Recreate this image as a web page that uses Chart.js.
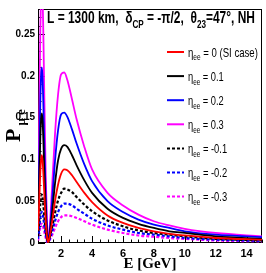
<!DOCTYPE html>
<html>
<head>
<meta charset="utf-8">
<script src="https://cdn.jsdelivr.net/npm/chart.js"></script>
<style>
  html, body { margin: 0; padding: 0; background: #fff; }
</style>
</head>
<body>
<canvas id="myChart" width="266" height="273"></canvas>
<script>
// Data: neutrino energy (GeV) and P(mu -> e) for each eta_ee
const energies = [0.5, 0.55, 0.6, 0.65, 0.7, 0.75, 0.8, 0.85, 0.9, 1.0, 1.1, 1.15, 1.2,
                  1.3, 1.45, 1.6, 1.8, 2.0, 2.2, 2.4, 2.7, 3.0, 3.5, 4.0,
                  5.0, 6.0, 7.0, 8.0, 9.0, 10, 12, 15];

const pSI   = [0.015, 0.035, 0.06, 0.085, 0.10, 0.105, 0.098, 0.082, 0.062, 0.027, 0.005, 0.001, 0.003,
               0.012, 0.03, 0.05, 0.07, 0.083, 0.088, 0.087, 0.081, 0.073, 0.06, 0.049,
               0.033, 0.024, 0.018, 0.014, 0.011, 0.009, 0.006, 0.004];
const pP01  = [0.022, 0.052, 0.09, 0.126, 0.148, 0.155, 0.145, 0.121, 0.092, 0.04, 0.007, 0.001, 0.004,
               0.016, 0.043, 0.071, 0.099, 0.113, 0.117, 0.115, 0.105, 0.093, 0.075, 0.06,
               0.041, 0.03, 0.023, 0.018, 0.014, 0.012, 0.008, 0.005];
const pP02  = [0.03, 0.07, 0.12, 0.17, 0.2, 0.21, 0.196, 0.164, 0.124, 0.054, 0.01, 0.002, 0.006,
               0.022, 0.06, 0.098, 0.135, 0.154, 0.156, 0.151, 0.136, 0.119, 0.094, 0.074,
               0.05, 0.037, 0.028, 0.022, 0.018, 0.014, 0.010, 0.007];
const pP03  = [0.045, 0.105, 0.18, 0.255, 0.3, 0.315, 0.294, 0.246, 0.186, 0.081, 0.015, 0.003, 0.008,
               0.03, 0.08, 0.13, 0.178, 0.202, 0.204, 0.195, 0.172, 0.148, 0.115, 0.088,
               0.06, 0.045, 0.034, 0.026, 0.021, 0.017, 0.012, 0.008];
const pM01  = [0.008, 0.019, 0.033, 0.047, 0.055, 0.058, 0.054, 0.045, 0.034, 0.015, 0.003, 0.001, 0.003,
               0.01, 0.022, 0.036, 0.051, 0.06, 0.065, 0.064, 0.061, 0.055, 0.046, 0.038,
               0.027, 0.02, 0.015, 0.012, 0.01, 0.008, 0.005, 0.003];
const pM02  = [0.005, 0.012, 0.021, 0.03, 0.035, 0.037, 0.035, 0.029, 0.022, 0.01, 0.002, 0.001, 0.002,
               0.007, 0.016, 0.026, 0.037, 0.044, 0.047, 0.047, 0.045, 0.041, 0.035, 0.029,
               0.021, 0.016, 0.012, 0.01, 0.008, 0.006, 0.004, 0.0025];
const pM03  = [0.003, 0.008, 0.013, 0.019, 0.022, 0.023, 0.022, 0.018, 0.014, 0.006, 0.001, 0.0005, 0.002,
               0.005, 0.011, 0.018, 0.026, 0.031, 0.033, 0.033, 0.032, 0.03, 0.026, 0.022,
               0.016, 0.012, 0.009, 0.0075, 0.006, 0.005, 0.003, 0.002];

const etaLabels = ["0 (SI case)", "0.1", "0.2", "0.3", "-0.1", "-0.2", "-0.3"];
const series = [pSI, pP01, pP02, pP03, pM01, pM02, pM03];
const colors = ["#ff0000", "#000000", "#0000ff", "#ff00ff", "#000000", "#0000ff", "#ff00ff"];
const dashed = [false, false, false, false, true, true, true];

const xTicks = [2, 4, 6, 8, 10, 12, 14];
const yTicks = [0, 0.05, 0.1, 0.15, 0.2, 0.25];

// draw text made of parts (some subscripts), squeezed to a target width
function drawRich(ctx, parts, x, y, size, width, family, weight) {
  let total = 0;
  parts.forEach(p => {
    ctx.font = weight + " " + (p.sub ? size * 0.68 : size) + "px " + family;
    total += ctx.measureText(p.t).width;
  });
  ctx.save();
  ctx.translate(x, y);
  ctx.scale(width / total, 1);
  let cx = 0;
  parts.forEach(p => {
    ctx.font = weight + " " + (p.sub ? size * 0.68 : size) + "px " + family;
    ctx.fillText(p.t, cx, p.sub ? size * 0.3 : 0);
    cx += ctx.measureText(p.t).width;
  });
  ctx.restore();
}

const extras = {
  id: "extras",
  beforeDatasetsDraw(chart) {
    const ctx = chart.ctx;
    const a = chart.chartArea;
    const xs = chart.scales.x, ys = chart.scales.y;
    ctx.save();
    ctx.strokeStyle = "#000";
    ctx.lineWidth = 1;
    ctx.strokeRect(a.left + 0.5, a.top + 0.5, a.right - a.left - 1, a.bottom - a.top - 1);
    ctx.beginPath();
    for (let v = 0.5; v <= 15.001; v += 0.5) {
      const px = Math.round(xs.getPixelForValue(v)) + 0.5;
      const len = Math.abs(v % 2) < 1e-6 ? 7 : 3.5;
      ctx.moveTo(px, a.bottom);
      ctx.lineTo(px, a.bottom - len);
    }
    for (let v = 0; v <= 0.2801; v += 0.01) {
      const py = Math.round(ys.getPixelForValue(v)) + 0.5;
      const major = Math.abs(Math.round(v * 100) % 5) === 0;
      ctx.moveTo(a.left, py);
      ctx.lineTo(a.left + (major ? 7 : 3.5), py);
    }
    ctx.stroke();
    ctx.restore();
  },
  afterDraw(chart) {
    const ctx = chart.ctx;
    ctx.save();
    ctx.fillStyle = "#000";
    ctx.textBaseline = "alphabetic";

    // header
    drawRich(ctx, [
      { t: "L = 1300 km,  \u03b4" }, { t: "CP", sub: true },
      { t: " = -\u03c0/2,  \u03b8" }, { t: "23", sub: true },
      { t: "=47\u00b0, NH" }
    ], 47, 23, 17, 208, "'Liberation Sans'", "bold");

    // legend
    etaLabels.forEach((lab, i) => {
      const y = 52 + i * 24.1;
      ctx.save();
      ctx.strokeStyle = colors[i];
      ctx.lineWidth = 2;
      ctx.setLineDash(dashed[i] ? [3, 2] : []);
      ctx.beginPath();
      ctx.moveTo(167, y);
      ctx.lineTo(184, y);
      ctx.stroke();
      ctx.restore();
      ctx.font = "13px 'Liberation Sans'";
      const parts = [{ t: "\u03b7" }, { t: "ee", sub: true }, { t: " = " + lab }];
      let w = ctx.measureText("\u03b7 = " + lab).width + 7;
      drawRich(ctx, parts, 188, y + 4.5, 13, w * 0.76, "'Liberation Sans'", "normal");
    });

    // x title
    ctx.font = "bold 15px 'Liberation Serif'";
    ctx.textAlign = "center";
    ctx.fillText("E [GeV]", 150, 268);

    // y title
    ctx.save();
    ctx.translate(20, 142);
    ctx.rotate(-Math.PI / 2);
    ctx.textAlign = "left";
    ctx.font = "bold 22px 'Liberation Serif'";
    ctx.fillText("P", 0, 0);
    const w = ctx.measureText("P").width;
    ctx.font = "bold 13px 'Liberation Serif'";
    ctx.fillText("\u03bc e", w + 3, 5);
    ctx.restore();

    ctx.restore();
  }
};

const data = {
  datasets: series.map((vals, i) => ({
    label: etaLabels[i],
    data: energies.map((e, j) => ({ x: e, y: vals[j] })),
    borderColor: colors[i],
    borderWidth: dashed[i] ? 2.2 : 1.8,
    borderDash: dashed[i] ? [3, 2] : [],
    pointRadius: 0,
    cubicInterpolationMode: "monotone",
    fill: false
  }))
};

const config = {
  type: "line",
  data: data,
  options: {
    responsive: false,
    animation: false,
    layout: { padding: { left: 0, top: 3, right: 4, bottom: 0 } },
    plugins: { legend: { display: false }, tooltip: { enabled: false } },
    scales: {
      x: {
        type: "linear",
        min: 0.5,
        max: 15,
        afterFit: s => { s.height = 30; },
        afterBuildTicks: s => { s.ticks = xTicks.map(v => ({ value: v })); },
        grid: { display: false, drawTicks: false },
        border: { display: false },
        ticks: {
          autoSkip: false, maxRotation: 0, padding: 4, color: "#000",
          font: { family: "'Liberation Sans'", size: 11, weight: "bold" }
        }
      },
      y: {
        min: 0,
        max: 0.28,
        afterFit: s => { s.width = 38; },
        afterBuildTicks: s => { s.ticks = yTicks.map(v => ({ value: v })); },
        grid: { display: false, drawTicks: false },
        border: { display: false },
        ticks: {
          padding: 3, color: "#000",
          font: { family: "'Liberation Sans'", size: 10, weight: "bold" },
          callback: v => String(Math.round(v * 100) / 100)
        }
      }
    }
  },
  plugins: [extras]
};

const ctx = document.getElementById("myChart").getContext("2d");
const myChart = new Chart(ctx, config);
</script>
</body>
</html>
